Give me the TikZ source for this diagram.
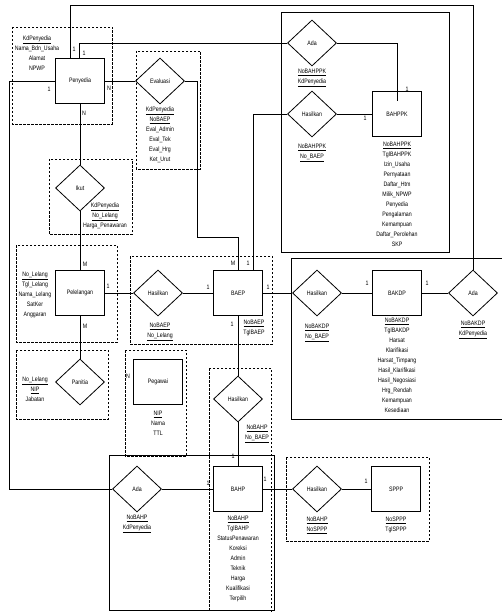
\documentclass[tikz,border=0pt]{standalone}
\usepackage{fontspec}
\setmainfont{Liberation Sans}[FakeStretch=0.82]
\usetikzlibrary{shapes.geometric}
\begin{document}
\begin{tikzpicture}[x=1pt,y=-1pt,
  every node/.style={font=\fontsize{6.4}{10}\selectfont, inner sep=0pt},
  ent/.style={draw, line width=0.8pt, minimum width=49pt, minimum height=45pt},
  rel/.style={draw, diamond, line width=0.8pt, minimum width=49pt, minimum height=46pt},
  attr/.style={align=center, anchor=north},
  grp/.style={draw, dash pattern=on 2.5pt off 1.5pt, line width=0.7pt},
  bigbox/.style={draw, line width=0.8pt},
  conn/.style={line width=0.8pt}]
\useasboundingbox[fill=white] (0,0) rectangle (502,612);
\clip (0,0) rectangle (502,612);

% group frames
\draw[bigbox] (281,12) rectangle (449,252);
\draw[bigbox] (291,258) rectangle (515,419);
\draw[bigbox] (109,455) rectangle (274,610.5);
\draw[grp] (12,27) rectangle (112,124);
\draw[grp] (136,51) rectangle (200,169);
\draw[grp] (49,159) rectangle (132,234);
\draw[grp] (16,245) rectangle (117,342);
\draw[grp] (130,256) rectangle (272,344);
\draw[grp] (16,350) rectangle (108,419);
\draw[grp] (125,350) rectangle (186,456);
\draw[grp] (209,368) rectangle (271,625);
\draw[grp] (286,457) rectangle (429,541);

% entities and relationships
\node[ent] (peny) at (80,81) {Penyedia};
\node[rel] (eval) at (160,81) {Evaluasi};
\node[rel] (ikut) at (80,188) {Ikut};
\node[ent] (pel) at (80,293) {Pelelangan};
\node[rel] (has1) at (158,293) {Hasilkan};
\node[ent] (baep) at (238,293) {BAEP};
\node[rel] (has2) at (317,293) {Hasilkan};
\node[ent] (bakdp) at (397,293) {BAKDP};
\node[rel] (ada1) at (473,293) {Ada};
\node[rel] (ada2) at (312,43) {Ada};
\node[rel] (has3) at (312,114) {Hasilkan};
\node[ent] (bahppk) at (397,114) {BAHPPK};
\node[rel] (pan) at (80,382) {Panitia};
\node[ent] (peg) at (158,382) {Pegawai};
\node[rel] (has4) at (238,399) {Hasilkan};
\node[ent] (bahp) at (238,489) {BAHP};
\node[rel] (ada3) at (137,489) {Ada};
\node[rel] (has5) at (317,489) {Hasilkan};
\node[ent] (sppp) at (396,489) {SPPP};

% connectors
\draw[conn] ([xshift=-10pt]peny.north) -- ++(0,-53) -| (ada1.north);
\draw[conn] ([xshift=-1pt]peny.north) |- (ada2.west);
\draw[conn] (ada2.east) -| ([yshift=-10pt]bahppk.north);
\draw[conn] (has3.east) -- (bahppk.west);
\draw[conn] (has3.west) -| ([xshift=15pt]baep.north);
\draw[conn] (peny.east) -- (eval.west);
\draw[conn] (eval.east) -- ++(12,0) -- ++(0,156) -| (baep.north);
\draw[conn] (peny.south) -- (ikut.north);
\draw[conn] (ikut.south) -- (pel.north);
\draw[conn] (pel.east) -- (has1.west);
\draw[conn] (has1.east) -- (baep.west);
\draw[conn] (baep.east) -- (has2.west);
\draw[conn] (has2.east) -- (bakdp.west);
\draw[conn] (bakdp.east) -- (ada1.west);
\draw[conn] (pel.south) -- (pan.north);
\draw[conn] (baep.south) -- (has4.north);
\draw[conn] (has4.south) -- (bahp.north);
\draw[conn] (peny.west) -- ++(-46,0) |- (ada3.west);
\draw[conn] (ada3.east) -- (bahp.west);
\draw[conn] (bahp.east) -- (has5.west);
\draw[conn] (has5.east) -- (sppp.west);

% attributes
\node[attr] (apeny) at (37,36) {\underline{KdPenyedia}\\Nama\_Bdn\_Usaha\\Alamat\\NPWP};
\node[attr] (aeval) at (160,107) {\underline{KdPenyedia}\\\underline{NoBAEP}\\Eval\_Admin\\Eval\_Tek\\Eval\_Hrg\\Ket\_Urut};
\node[attr] (aikut) at (105,203) {\underline{KdPenyedia}\\\underline{No\_Lelang}\\Harga\_Penawaran};
\node[attr] (apel) at (35,272) {\underline{No\_Lelang}\\Tgl\_Lelang\\Nama\_Lelang\\SatKer\\Anggaran};
\node[attr] (ahas1) at (160,323) {\underline{NoBAEP}\\\underline{No\_Lelang}};
\node[attr] (abaep) at (254,320) {\underline{NoBAEP}\\TglBAEP};
\node[attr] (ahas2) at (317,324) {\underline{NoBAKDP}\\\underline{No\_BAEP}};
\node[attr] (abakdp) at (397,318) {\underline{NoBAKDP}\\TglBAKDP\\Harsat\\Klarifikasi\\Harsat\_Timpang\\Hasil\_Klarifikasi\\Hasil\_Negosiasi\\Hrg\_Rendah\\Kemampuan\\Kesediaan};
\node[attr] (aada1) at (473,321) {\underline{NoBAKDP}\\\underline{KdPenyedia}};
\node[attr] (aada2) at (312,69) {\underline{NoBAHPPK}\\\underline{KdPenyedia}};
\node[attr] (ahas3) at (312,144) {\underline{NoBAHPPK}\\\underline{No\_BAEP}};
\node[attr] (abahppk) at (397,142) {\underline{NoBAHPPK}\\TglBAHPPK\\Izin\_Usaha\\Pernyataan\\Daftar\_Htm\\Milik\_NPWP\\Penyedia\\Pengalaman\\Kemampuan\\Daftar\_Perolehan\\SKP};
\node[attr] (apan) at (35,377) {\underline{No\_Lelang}\\\underline{NIP}\\Jabatan};
\node[attr] (apeg) at (158,411) {\underline{NIP}\\Nama\\TTL};
\node[attr] (ahas4) at (257,425) {\underline{NoBAHP}\\\underline{No\_BAEP}};
\node[attr] (aada3) at (137,515) {\underline{NoBAHP}\\\underline{KdPenyedia}};
\node[attr] (abahp) at (238,516) {\underline{NoBAHP}\\TglBAHP\\StatusPenawaran\\Koreksi\\Admin\\Teknik\\Harga\\Kualifikasi\\Terpilih};
\node[attr] (ahas5) at (317,517) {\underline{NoBAHP}\\\underline{NoSPPP}};
\node[attr] (asppp) at (396,517) {\underline{NoSPPP}\\TglSPPP};

% cardinalities
\node (k1) at (74,49) {1};
\node (k2) at (84,53) {1};
\node (k3) at (49,89) {1};
\node (k4) at (109,88) {N};
\node (k5) at (84,113) {N};
\node (k6) at (407,89) {1};
\node (k7) at (365,118) {1};
\node (k8) at (233,263) {M};
\node (k9) at (248,263) {1};
\node (k10) at (85,264) {M};
\node (k11) at (85,326) {M};
\node (k12) at (108,286) {1};
\node (k13) at (208,287) {1};
\node (k14) at (268,287) {1};
\node (k15) at (232,324) {1};
\node (k16) at (367,283) {1};
\node (k17) at (427,283) {1};
\node (k18) at (128,376) {N};
\node (k19) at (233,456) {1};
\node (k20) at (208,483) {1};
\node (k21) at (265,479) {1};
\node (k22) at (366,481) {1};
\end{tikzpicture}
\end{document}
